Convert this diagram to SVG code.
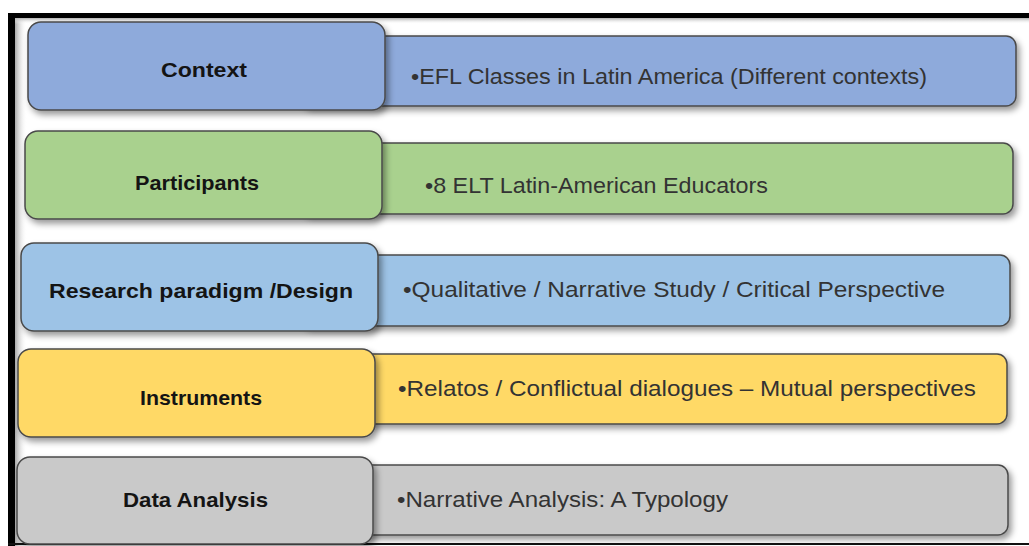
<svg xmlns="http://www.w3.org/2000/svg" width="1029" height="546" viewBox="0 0 1029 546">
<defs>
<filter id="sh" x="-5%" y="-20%" width="112%" height="150%">
<feDropShadow dx="3" dy="4" stdDeviation="3" flood-color="#000" flood-opacity="0.4"/>
</filter>
<linearGradient id="gl" x1="0" y1="0" x2="1" y2="0">
<stop offset="0" stop-color="#a8a8a8"/>
<stop offset="1" stop-color="#ffffff" stop-opacity="0"/>
</linearGradient>
<linearGradient id="gt" x1="0" y1="0" x2="0" y2="1">
<stop offset="0" stop-color="#b0b0b0"/>
<stop offset="1" stop-color="#ffffff" stop-opacity="0"/>
</linearGradient>
</defs>
<style>
.box{stroke:#4a4a4a;stroke-width:1.5;filter:url(#sh);}
.lbl{font-family:"Liberation Sans",Arial,sans-serif;font-weight:bold;font-size:21px;fill:#141414;}
.txt{font-family:"Liberation Sans",Arial,sans-serif;font-size:22px;fill:#333333;}
</style>
<rect x="0" y="0" width="1029" height="546" fill="#ffffff"/>
<g id="frame">
<rect x="15" y="18" width="12" height="528" fill="url(#gl)"/>
<rect x="15" y="18" width="1014" height="6" fill="url(#gt)"/>
<rect x="8" y="13" width="1021" height="5" fill="#000"/>
<rect x="8" y="13" width="7" height="533" fill="#000"/>
<rect x="8" y="543" width="1021" height="2" fill="#111"/>
</g>
<g id="context">
<rect class="box" x="300" y="36" width="716" height="70" rx="10" fill="#8eaadb"/>
<rect class="box" x="28" y="22" width="357" height="88" rx="13" fill="#8eaadb"/>
<text class="lbl" x="161" y="77" textLength="86" lengthAdjust="spacingAndGlyphs">Context</text>
<text class="txt" x="411" y="84" textLength="516" lengthAdjust="spacingAndGlyphs">•EFL Classes in Latin America (Different contexts)</text>
</g>
<g id="participants">
<rect class="box" x="300" y="143" width="713" height="71" rx="10" fill="#a9d18e"/>
<rect class="box" x="25" y="131" width="357" height="88" rx="13" fill="#a9d18e"/>
<text class="lbl" x="135" y="190" textLength="124" lengthAdjust="spacingAndGlyphs">Participants</text>
<text class="txt" x="425" y="193" textLength="343" lengthAdjust="spacingAndGlyphs">•8 ELT Latin-American Educators</text>
</g>
<g id="research">
<rect class="box" x="300" y="255" width="710" height="71" rx="10" fill="#9dc3e6"/>
<rect class="box" x="21" y="243" width="357" height="88" rx="13" fill="#9dc3e6"/>
<text class="lbl" x="49" y="298" textLength="304" lengthAdjust="spacingAndGlyphs">Research paradigm /Design</text>
<text class="txt" x="403" y="297" textLength="542" lengthAdjust="spacingAndGlyphs">•Qualitative / Narrative Study / Critical Perspective</text>
</g>
<g id="instruments">
<rect class="box" x="300" y="354" width="707" height="70" rx="10" fill="#ffd966"/>
<rect class="box" x="18" y="349" width="357" height="88" rx="13" fill="#ffd966"/>
<text class="lbl" x="140" y="405" textLength="122" lengthAdjust="spacingAndGlyphs">Instruments</text>
<text class="txt" x="398" y="396" textLength="578" lengthAdjust="spacingAndGlyphs">•Relatos / Conflictual dialogues – Mutual perspectives</text>
</g>
<g id="data-analysis">
<rect class="box" x="300" y="465" width="708" height="70" rx="10" fill="#c9c9c9"/>
<rect class="box" x="17" y="457" width="356" height="87" rx="13" fill="#c9c9c9"/>
<text class="lbl" x="123" y="507" textLength="145" lengthAdjust="spacingAndGlyphs">Data Analysis</text>
<text class="txt" x="397" y="507" textLength="331" lengthAdjust="spacingAndGlyphs">•Narrative Analysis: A Typology</text>
</g>
<g id="connectors"></g>
</svg>
